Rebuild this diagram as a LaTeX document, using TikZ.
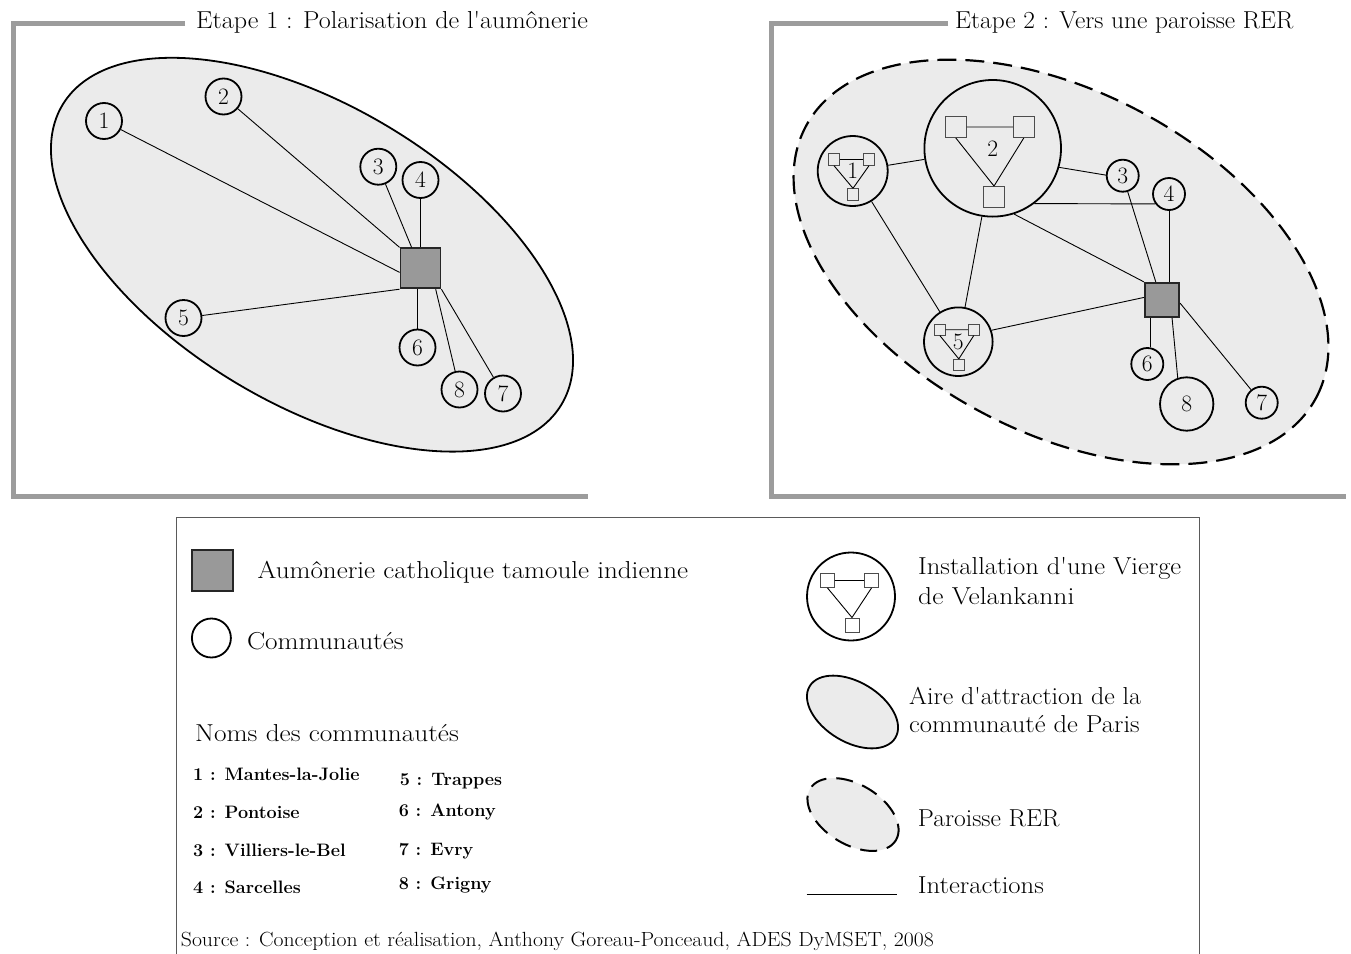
\documentclass[tikz,border=0pt]{standalone}
\usepackage{graphicx}
\usetikzlibrary{shapes.geometric}

\definecolor{areafill}{HTML}{EBEBEB}
\definecolor{framegray}{HTML}{9C9C9C}
\definecolor{sqfill}{HTML}{999999}
\definecolor{boxline}{HTML}{5A5A5A}

\newcommand{\myNum}{\fontsize{23.5}{26}\selectfont}
\newcommand{\myLab}{\fontsize{24.5}{28}\selectfont}
\newcommand{\myList}{\fontsize{18}{21}\selectfont\bfseries}
\newcommand{\mySrc}{\fontsize{20.5}{24}\selectfont}
\newcommand{\hs}[2]{\scalebox{#1}[1]{#2}}

\begin{document}
\begin{tikzpicture}[x=1pt,y=-1pt,
  comm/.style={circle,draw,line width=1.8pt,inner sep=0pt,minimum size=#1,font=\myNum},
  comm/.default=36pt,
  aum/.style={rectangle,draw=black!85,line width=1.8pt,fill=sqfill,inner sep=0pt,minimum size=#1},
  minisq/.style={rectangle,draw=black!70,line width=0.9pt,inner sep=0pt,minimum size=#1},
  link/.style={draw=black,line width=0.9pt},
  frameline/.style={draw=framegray,line width=5.5pt},
  zone/.style={ellipse,draw,line width=1.8pt,fill=areafill,inner sep=0pt},
  rerzone/.style={ellipse,draw,line width=2.2pt,fill=areafill,inner sep=0pt,dash pattern=on 19pt off 9pt},
  lab/.style={anchor=base west,inner sep=0pt,font=\myLab},
  listlab/.style={anchor=base west,inner sep=0pt,font=\myList},
]
\fill[white] (0,0) rectangle (1351,953);
\useasboundingbox (0,0) rectangle (1351,953);

% ---------- Panel 1 ----------
\draw[frameline] (185,23.7) -- (13.7,23.7) -- (13.7,496.5) -- (588,496.5);
\node[lab] (title1) at (196,28.8) {\hs{1.065}{Etape 1 : Polarisation de l\textquotesingle aumônerie}};

\node[zone,minimum width=582pt,minimum height=298pt,rotate=-31] (zone1) at (312,254.7) {};

\node[aum=40pt] (s1) at (420.5,268.3) {};
\node[comm] (c1) at (104,121) {1};
\node[comm] (c2) at (223.5,96.5) {2};
\node[comm] (c3) at (378.3,166.7) {3};
\node[comm] (c4) at (420.5,180) {4};
\node[comm] (c5) at (183.5,318) {5};
\node[comm] (c6) at (417.5,347.5) {6};
\node[comm] (c8) at (459.5,389.5) {8};
\node[comm] (c7) at (503,393.5) {7};

\draw[link] (c1) -- (s1.191);
\draw[link] (c2) -- (s1.north west);
\draw[link] (c3) -- (s1.113);
\draw[link] (c4) -- (s1.north);
\draw[link] (c5) -- (s1.south west);
\draw[link] (c6) -- (c6 |- s1.south);
\draw[link] (c8) -- (s1.-54);
\draw[link] (c7) -- (s1.south east);

% ---------- Panel 2 ----------
\draw[frameline] (948,23.7) -- (771.4,23.7) -- (771.4,496.5) -- (1346,496.5);
\node[lab] (title2) at (955,28.8) {\hs{1.037}{Etape 2 : Vers une paroisse RER}};

\node[rerzone,minimum width=578pt,minimum height=340pt,rotate=-28] (zone2) at (1061,262) {};

\node[aum=34.5pt] (s2) at (1162,300) {};
\node[comm=70pt] (d1) at (852.7,171) {1};
\node[comm=136.6pt] (d2) at (992.7,148.3) {2};
\node[comm=68.6pt] (d5) at (958.3,341.7) {5};
\node[comm=32pt] (d3) at (1122.7,175.7) {3};
\node[comm=32pt] (d4) at (1169,194) {4};
\node[comm=32pt] (d6) at (1147.3,364) {6};
\node[comm=53.4pt] (d8) at (1186.7,404) {8};
\node[comm=32pt] (d7) at (1261.7,402.7) {7};

% Vierge triangles
\node[minisq=11.5pt] (t1a) at (834,159.5) {};
\node[minisq=11.5pt] (t1b) at (869,159.5) {};
\node[minisq=11.5pt] (t1c) at (853,194.5) {};
\draw[link] (t1a) -- (t1b) (t1a.south) -- (t1c.north) (t1b.south) -- (t1c.north);

\node[minisq=21pt] (t2a) at (955.8,127) {};
\node[minisq=21pt] (t2b) at (1023.8,127) {};
\node[minisq=21pt] (t2c) at (994,197) {};
\draw[link] (t2a) -- (t2b) (t2a.south) -- (t2c.north) (t2b.south) -- (t2c.north);

\node[minisq=10.7pt] (t5a) at (939.8,329.7) {};
\node[minisq=10.7pt] (t5b) at (973.8,329.7) {};
\node[minisq=10.7pt] (t5c) at (958.8,364.7) {};
\draw[link] (t5a) -- (t5b) (t5a.south) -- (t5c.north) (t5b.south) -- (t5c.north);

\draw[link] (d1) -- (d2);
\draw[link] (d2.-16) -- (d3.178);
\draw[link] (d2.-53.6) -- (d4.-144);
\draw[link] (d2.-72.6) -- (s2.north west);
\draw[link] (d2.-99) -- (d5.79);
\draw[link] (d1) -- (d5);
\draw[link] (d5.19) -- (s2.172);
\draw[link] (d3) -- (s2.109);
\draw[link] (d4) -- (d4 |- s2.north);
\draw[link] (d6.80) -- (d6.80 |- s2.south);
\draw[link] (s2.-61) -- (d8.109);
\draw[link] (s2.-10) -- (d7);

% ---------- Legend ----------
\draw[draw=boxline,line width=1.2pt] (176.5,955) -- (176.5,517.5) -- (1199.5,517.5) -- (1199.5,955);

\node[aum=41pt] (lsq) at (212.5,570.5) {};
\node[lab] (lsqt) at (257.5,578.3) {\hs{1.105}{Aumônerie catholique tamoule indienne}};
\node[comm=39pt] (lci) at (211.4,638) {};
\node[lab] (lcit) at (246.8,649.3) {\hs{1.111}{Communautés}};
\node[lab] (noms) at (195,741.7) {\hs{1.114}{Noms des communautés}};

\node[listlab] (n1) at (193,780.7) {1 : Mantes-la-Jolie};
\node[listlab] (n2) at (193,818.3) {2 : Pontoise};
\node[listlab] (n3) at (193,856.7) {3 : Villiers-le-Bel};
\node[listlab] (n4) at (193,893.3) {4 : Sarcelles};
\node[listlab] (n5) at (399.6,785) {5 : Trappes};
\node[listlab] (n6) at (398.6,816) {6 : Antony};
\node[listlab] (n7) at (398.6,855) {7 : Evry};
\node[listlab] (n8) at (398.6,889.3) {8 : Grigny};

\node[comm=88pt] (lv) at (851,596.5) {};
\node[minisq=14pt] (lva) at (827.5,580.5) {};
\node[minisq=14pt] (lvb) at (871.5,580.5) {};
\node[minisq=14pt] (lvc) at (852,625) {};
\draw[link] (lva) -- (lvb) (lva.south) -- (lvc.north) (lvb.south) -- (lvc.north);
\node[lab] (lvt1) at (918,574.3) {\hs{1.084}{Installation d\textquotesingle une Vierge}};
\node[lab] (lvt2) at (918,604.3) {\hs{1.123}{de Velankanni}};

\node[zone,minimum width=100pt,minimum height=60pt,rotate=-31] (lz1) at (852.5,712) {};
\node[lab] (lz1t1) at (909,704.3) {\hs{1.056}{Aire d\textquotesingle attraction de la}};
\node[lab] (lz1t2) at (909,732.7) {\hs{1.084}{communauté de Paris}};

\node[ellipse,draw,line width=2pt,fill=areafill,inner sep=0pt,dash pattern=on 17pt off 10pt,minimum width=100pt,minimum height=60pt,rotate=-31] (lz2) at (853,814.5) {};
\node[lab] (lz2t) at (917.7,826.7) {\hs{1.044}{Paroisse RER}};

\coordinate (li1) at (806.7,894);
\coordinate (li2) at (897.3,894);
\draw[link] (li1) -- (li2);
\node[lab] (lit) at (917.7,893) {\hs{1.088}{Interactions}};

\node[anchor=base west,inner sep=0pt,font=\mySrc] (src) at (180.7,946) {\hs{1.06}{Source : Conception et réalisation, Anthony Goreau-Ponceaud, ADES DyMSET, 2008}};
\end{tikzpicture}
\end{document}
